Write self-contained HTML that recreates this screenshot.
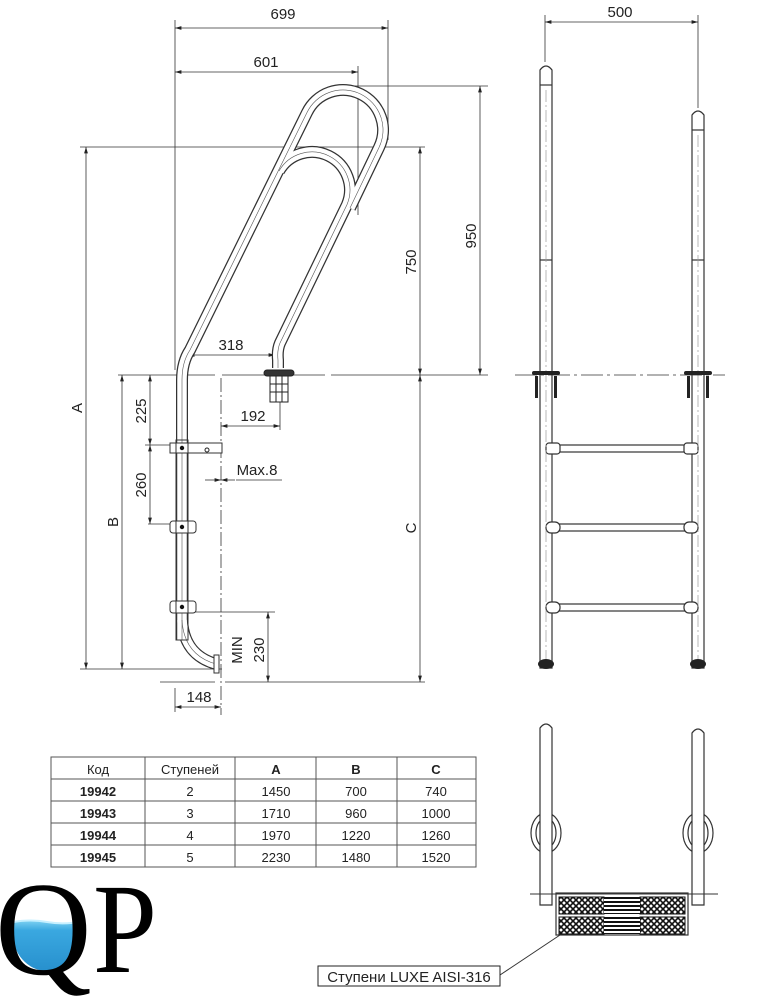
<!DOCTYPE html>
<html><head><meta charset="utf-8"><style>
html,body{margin:0;padding:0;background:#fff;width:775px;height:1000px;overflow:hidden}
svg{display:block}
text{font-family:"Liberation Sans","DejaVu Sans",sans-serif;fill:#222}
</style></head><body>
<svg width="775" height="1000" viewBox="0 0 775 1000" xmlns="http://www.w3.org/2000/svg">
<defs>
<marker id="a" viewBox="0 0 10 10" refX="10" refY="5" markerWidth="8" markerHeight="8" orient="auto-start-reverse"><path d="M0,2 L10,5 L0,8 z" fill="#222"/></marker>
<pattern id="hx" width="6" height="6" patternUnits="userSpaceOnUse"><rect width="6" height="6" fill="#fff"/><path d="M0,0 L6,6 M6,0 L0,6" stroke="#111" stroke-width="1.6"/></pattern>
<pattern id="hl" width="4" height="4" patternUnits="userSpaceOnUse"><rect width="4" height="4" fill="#fff"/><path d="M0,2 H4" stroke="#111" stroke-width="2"/></pattern>
<linearGradient id="w" x1="0" y1="0" x2="0" y2="1"><stop offset="0" stop-color="#8fdcf7"/><stop offset="0.15" stop-color="#3aa8e0"/><stop offset="1" stop-color="#1a7fc0"/></linearGradient>
<clipPath id="qc"><ellipse cx="47" cy="931" rx="35" ry="40"/></clipPath>
</defs>

<g stroke="#333" stroke-width="0.8" fill="none">
<line x1="175" y1="20" x2="175" y2="370"/>
<line x1="388" y1="20" x2="388" y2="140"/>
<line x1="358" y1="66" x2="358" y2="215"/>
<line x1="80" y1="147" x2="425" y2="147"/>
<line x1="350" y1="86" x2="488" y2="86"/>
<line x1="118" y1="375" x2="215" y2="375"/>
<line x1="222" y1="375" x2="325" y2="375"/>
<line x1="331" y1="375" x2="488" y2="375"/>
<line x1="221" y1="378" x2="221" y2="715" stroke-dasharray="14,3,2,3"/>
<line x1="280" y1="400" x2="280" y2="430"/>
<line x1="145" y1="445" x2="175" y2="445"/>
<line x1="148" y1="524" x2="175" y2="524"/>
<line x1="195" y1="612" x2="275" y2="612"/>
<line x1="80" y1="669" x2="222" y2="669"/>
<line x1="160" y1="682" x2="215" y2="682"/>
<line x1="225" y1="682" x2="425" y2="682"/>
<line x1="175" y1="688" x2="175" y2="712"/>
<line x1="175" y1="28" x2="388" y2="28" marker-start="url(#a)" marker-end="url(#a)"/>
<line x1="175" y1="72" x2="358" y2="72" marker-start="url(#a)" marker-end="url(#a)"/>
<line x1="480" y1="86" x2="480" y2="375" marker-start="url(#a)" marker-end="url(#a)"/>
<line x1="420" y1="147" x2="420" y2="375" marker-start="url(#a)" marker-end="url(#a)"/>
<line x1="420" y1="375" x2="420" y2="682" marker-start="url(#a)" marker-end="url(#a)"/>
<line x1="86" y1="147" x2="86" y2="669" marker-start="url(#a)" marker-end="url(#a)"/>
<line x1="122" y1="375" x2="122" y2="669" marker-start="url(#a)" marker-end="url(#a)"/>
<line x1="150" y1="375" x2="150" y2="445" marker-start="url(#a)" marker-end="url(#a)"/>
<line x1="150" y1="445" x2="150" y2="524" marker-start="url(#a)" marker-end="url(#a)"/>
<line x1="188" y1="355" x2="275" y2="355" marker-start="url(#a)" marker-end="url(#a)"/>
<line x1="221" y1="426" x2="280" y2="426" marker-start="url(#a)" marker-end="url(#a)"/>
<line x1="205" y1="480" x2="221" y2="480" marker-end="url(#a)"/>
<line x1="235" y1="480" x2="221" y2="480" marker-end="url(#a)"/>
<line x1="236" y1="480" x2="282" y2="480"/>
<line x1="268" y1="612" x2="268" y2="682" marker-start="url(#a)" marker-end="url(#a)"/>
<line x1="175" y1="707" x2="221" y2="707" marker-start="url(#a)" marker-end="url(#a)"/>
<line x1="545" y1="22" x2="698" y2="22" marker-start="url(#a)" marker-end="url(#a)"/>
<line x1="545" y1="15" x2="545" y2="62"/>
<line x1="698" y1="15" x2="698" y2="108"/>
</g>

<g fill="none" stroke-linecap="butt" stroke-linejoin="round">
<path id="t1" d="M182,640 L182,380 Q182,362 190,350 L307,112.5 A40,40 0 0 1 379,147.5 L350,208"/>
<path id="t2" d="M279,171 A38,38 0 0 1 347,204.6 L280,343 Q277,350 278,360 L278,368"/>
<path id="t3" d="M182,620 Q184,655 216,664"/>
</g>
<g fill="none" stroke="#333" stroke-width="12">
<use href="#t1"/><use href="#t2"/><use href="#t3"/>
</g>
<g fill="none" stroke="#fff" stroke-width="9.5">
<use href="#t1"/><use href="#t2"/><use href="#t3"/>
</g>
<g fill="none" stroke="#555" stroke-width="0.6">
<use href="#t1"/><use href="#t2"/><use href="#t3"/>
</g>
<g stroke="#333" stroke-width="1" fill="#fff">
<rect x="214" y="655" width="5" height="18"/>
<rect x="170" y="443" width="52" height="10"/>
<rect x="170" y="521" width="26" height="12" rx="3"/>
<rect x="170" y="601" width="26" height="12" rx="3"/>
<rect x="176" y="440" width="12" height="200" fill="none"/>
</g>
<g fill="#111"><circle cx="182" cy="448" r="2.2"/><circle cx="182" cy="527" r="2.2"/><circle cx="182" cy="607" r="2.2"/></g>
<circle cx="207" cy="450" r="2" fill="#fff" stroke="#222"/>
<g stroke="#222" stroke-width="1" fill="#fff">
<rect x="270" y="376" width="18" height="26"/>
<line x1="276" y1="376" x2="276" y2="402"/><line x1="282" y1="376" x2="282" y2="402"/>
<line x1="270" y1="384" x2="288" y2="384"/><line x1="270" y1="392" x2="288" y2="392"/>
<rect x="264" y="370" width="30" height="6" rx="3" fill="#333"/>
</g>

<g font-size="15" text-anchor="middle">
<text x="283" y="19">699</text>
<text x="266" y="67">601</text>
<text x="231" y="350">318</text>
<text x="253" y="421">192</text>
<text x="257" y="475">Max.8</text>
<text x="199" y="702">148</text>
<text transform="translate(476,236) rotate(-90)">950</text>
<text transform="translate(416,262) rotate(-90)">750</text>
<text transform="translate(416,528) rotate(-90)">C</text>
<text transform="translate(82,408) rotate(-90)">A</text>
<text transform="translate(118,522) rotate(-90)">B</text>
<text transform="translate(146,411) rotate(-90)">225</text>
<text transform="translate(146,485) rotate(-90)">260</text>
<text transform="translate(264,650) rotate(-90)">230</text>
<text transform="translate(242,650) rotate(-90)">MIN</text>
<text x="620" y="17">500</text>
</g>

<g stroke="#333" stroke-width="1.2" fill="#fff">
<path d="M540,668 L540,70 Q546,62 552,70 L552,668 Z"/>
<path d="M692,668 L692,115 Q698,107 704,115 L704,668 Z"/>
<line x1="540" y1="85" x2="552" y2="85"/><line x1="692" y1="130" x2="704" y2="130"/>
<line x1="540" y1="260" x2="552" y2="260"/><line x1="692" y1="260" x2="704" y2="260"/>
<rect x="552" y="445" width="140" height="7"/>
<rect x="552" y="524" width="140" height="7"/>
<rect x="552" y="604" width="140" height="7"/>
<rect x="546" y="443" width="14" height="11" rx="3"/><rect x="684" y="443" width="14" height="11" rx="3"/>
<rect x="546" y="522" width="14" height="11" rx="5"/><rect x="684" y="522" width="14" height="11" rx="5"/>
<rect x="546" y="602" width="14" height="11" rx="5"/><rect x="684" y="602" width="14" height="11" rx="5"/>
</g>
<g stroke="#999" stroke-width="0.7" stroke-dasharray="12,3,2,3"><line x1="546" y1="90" x2="546" y2="660"/><line x1="698" y1="135" x2="698" y2="660"/></g>
<g stroke="#333" stroke-width="0.8"><line x1="515" y1="375" x2="725" y2="375" stroke-dasharray="22,4,3,4"/></g>
<g fill="#222">
<ellipse cx="546" cy="664" rx="8" ry="5"/><ellipse cx="698" cy="664" rx="8" ry="5"/>
<rect x="532" y="371" width="28" height="4" rx="2"/><rect x="684" y="371" width="28" height="4" rx="2"/>
<rect x="535" y="376" width="3" height="22"/><rect x="554" y="376" width="3" height="22"/>
<rect x="687" y="376" width="3" height="22"/><rect x="706" y="376" width="3" height="22"/>
</g>

<g stroke="#333" stroke-width="1.2" fill="#fff">
<ellipse cx="546" cy="833" rx="15" ry="20"/><ellipse cx="546" cy="833" rx="10" ry="15"/>
<ellipse cx="698" cy="833" rx="15" ry="20"/><ellipse cx="698" cy="833" rx="10" ry="15"/>
<path d="M540,905 L540,728 Q546,720 552,728 L552,905 Z"/>
<path d="M692,905 L692,733 Q698,725 704,733 L704,905 Z"/>
<rect x="556" y="893" width="132" height="42"/>
</g>
<line x1="530" y1="894" x2="718" y2="894" stroke="#333"/>
<rect x="559" y="897" width="45" height="17" fill="url(#hx)" stroke="#111"/>
<rect x="640" y="897" width="45" height="17" fill="url(#hx)" stroke="#111"/>
<rect x="559" y="917" width="45" height="17" fill="url(#hx)" stroke="#111"/>
<rect x="640" y="917" width="45" height="17" fill="url(#hx)" stroke="#111"/>
<rect x="604" y="897" width="36" height="17" fill="url(#hl)"/>
<rect x="604" y="917" width="36" height="17" fill="url(#hl)"/>
<line x1="560" y1="935" x2="500" y2="975" stroke="#333"/>
<rect x="318" y="966" width="182" height="20" fill="#fff" stroke="#222"/>
<text x="409" y="982" font-size="15" text-anchor="middle">Ступени LUXE AISI-316</text>

<g stroke="#555" stroke-width="1" fill="none">
<rect x="51" y="757" width="425" height="110"/>
<line x1="51" y1="779" x2="476" y2="779"/><line x1="51" y1="801" x2="476" y2="801"/>
<line x1="51" y1="823" x2="476" y2="823"/><line x1="51" y1="845" x2="476" y2="845"/>
<line x1="145" y1="757" x2="145" y2="867"/><line x1="235" y1="757" x2="235" y2="867"/>
<line x1="316" y1="757" x2="316" y2="867"/><line x1="397" y1="757" x2="397" y2="867"/>
</g>
<g font-size="13" text-anchor="middle">
<text x="98" y="774">Код</text><text x="190" y="774">Ступеней</text>
<text x="276" y="774" font-weight="bold">A</text><text x="356" y="774" font-weight="bold">B</text><text x="436" y="774" font-weight="bold">C</text>
<g font-weight="bold"><text x="98" y="796">19942</text><text x="98" y="818">19943</text><text x="98" y="840">19944</text><text x="98" y="862">19945</text></g>
<text x="190" y="796">2</text><text x="276" y="796">1450</text><text x="356" y="796">700</text><text x="436" y="796">740</text>
<text x="190" y="818">3</text><text x="276" y="818">1710</text><text x="356" y="818">960</text><text x="436" y="818">1000</text>
<text x="190" y="840">4</text><text x="276" y="840">1970</text><text x="356" y="840">1220</text><text x="436" y="840">1260</text>
<text x="190" y="862">5</text><text x="276" y="862">2230</text><text x="356" y="862">1480</text><text x="436" y="862">1520</text>
</g>

<!-- logo -->
<g clip-path="url(#qc)">
<path d="M0,925 Q25,918 47,922 Q70,926 95,918 L95,1000 L0,1000 Z" fill="url(#w)"/>
<path d="M0,925 Q25,918 47,922 Q70,926 95,918" stroke="#c8f0ff" stroke-width="2" fill="none"/>
</g>
<text x="-5" y="974" style="font-family:'Liberation Serif',serif;font-size:134px;fill:#000">Q</text>
<text x="93" y="972" textLength="64" lengthAdjust="spacingAndGlyphs" style="font-family:'Liberation Serif',serif;font-size:128px;fill:#000">P</text>
</svg>
</body></html>
